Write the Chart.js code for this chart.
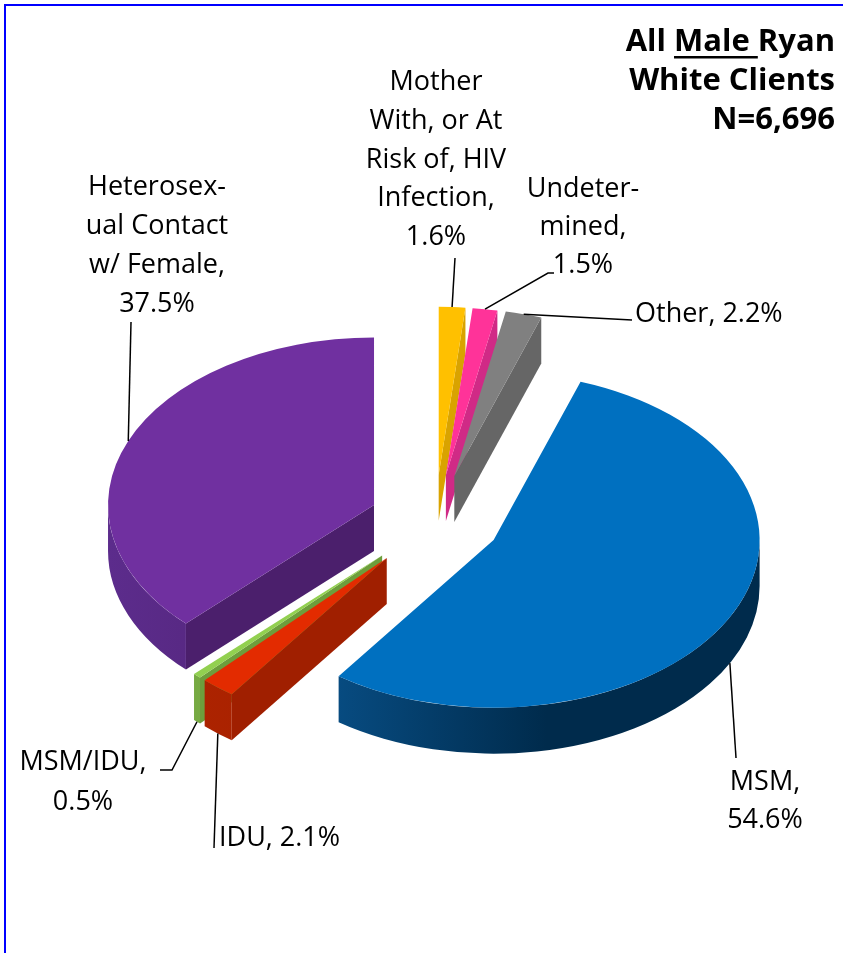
<!DOCTYPE html>
<html>
<head>
<meta charset="utf-8">
<script src="https://cdn.jsdelivr.net/npm/chart.js@4.4.0/dist/chart.umd.min.js"></script>
<style>
  html, body { margin: 0; padding: 0; background: #fff; }
  #wrap { position: relative; width: 846px; height: 953px; }
  #frame { position: absolute; left: 4px; top: 4px; width: 839px; height: 949px; box-sizing: border-box;
           border-top: 2px solid #0000ff; border-left: 2px solid #0000ff; pointer-events: none; }
</style>
</head>
<body>
<div id="wrap">
  <canvas id="pieChart"></canvas>
  <div id="frame"></div>
</div>
<script>
// --- Data ---
const categories = ['Mother With, or At Risk of, HIV Infection', 'Undetermined', 'Other', 'MSM', 'IDU', 'MSM/IDU', 'Heterosexual Contact w/ Female'];
const percentages = [1.6, 1.5, 2.2, 54.6, 2.1, 0.5, 37.5];
const titleLines = ['All Male Ryan', 'White Clients', 'N=6,696'];
const labelLines = [
    ['Mother', 'With, or At', 'Risk of, HIV', 'Infection,'],
    ['Undeter-', 'mined,'],
    ['Other,'],
    ['MSM,'],
    ['IDU,'],
    ['MSM/IDU,'],
    ['Heterosex-', 'ual Contact', 'w/ Female,']
];
const pctInline = [false, false, true, false, true, false, false];

// --- Styles ---
const topColors = ['#ffc000', '#ff3399', '#808080', '#0070c0', '#e32b00', '#92d050', '#7030a0'];
const wallColors = ['#d9a300', '#d02a86', '#666666', '#002b4c', '#a01f00', '#6d9e3c', '#4b1f6c'];
const wallLight = ['#e6b000', '#e02f90', '#707070', '#0b5c9c', '#b02400', '#7aae45', '#5c2c8c'];
const explode = [74, 74, 74, 66, 76, 76, 66];
const SQUASH = 0.63;
const DEPTH = 46;
const FONT = '"Open Sans", "Noto Sans", sans-serif';

// label placement (baseline of first line), leader end points
const labelLayout = [
    { x: 436, y: 90, align: 'center', pitch: 38.8, leader: [[455, 258]] },
    { x: 583, y: 197, align: 'center', pitch: 38, leader: [[548, 273], [554, 273]] },
    { x: 635, y: 322, align: 'left', pitch: 0, leader: [[632, 320]] },
    { x: 765, y: 790, align: 'center', pitch: 38, leader: [[736, 758]] },
    { x: 219, y: 846, align: 'left', pitch: 0, leader: [[214, 848]] },
    { x: 83, y: 770, align: 'center', pitch: 40, leader: [[172, 770], [160, 770]] },
    { x: 157, y: 195, align: 'center', pitch: 39, leader: [[131, 322]] }
];

function geom(arc, i) {
    const p = arc.getProps(['x', 'y', 'startAngle', 'endAngle', 'outerRadius'], true);
    const mid = (p.startAngle + p.endAngle) / 2;
    return {
        x: p.x, y: p.y, r: p.outerRadius, s: p.startAngle, e: p.endAngle, mid,
        cx: p.x + Math.cos(mid) * explode[i],
        cy: p.y + Math.sin(mid) * explode[i] * SQUASH
    };
}

function rim(g, a, dy) {
    return [g.cx + g.r * Math.cos(a), g.cy + g.r * SQUASH * Math.sin(a) + (dy || 0)];
}

function drawSlice(ctx, arc, i) {
    const g = geom(arc, i);
    ctx.save();
    // side walls along the cut edges
    const walls = [];
    if (Math.cos(g.s) < -1e-9) walls.push(g.s);
    if (Math.cos(g.e) > 1e-9) walls.push(g.e);
    ctx.fillStyle = wallColors[i];
    walls.forEach(a => {
        const p = rim(g, a), q = rim(g, a, DEPTH);
        ctx.beginPath();
        ctx.moveTo(g.cx, g.cy);
        ctx.lineTo(p[0], p[1]);
        ctx.lineTo(q[0], q[1]);
        ctx.lineTo(g.cx, g.cy + DEPTH);
        ctx.closePath();
        ctx.fill();
    });
    // outer wall (front half only)
    const a0 = Math.max(g.s, 0), a1 = Math.min(g.e, Math.PI);
    if (a1 > a0) {
        const grad = ctx.createLinearGradient(g.cx - g.r, 0, g.cx + g.r, 0);
        grad.addColorStop(0, wallLight[i]);
        grad.addColorStop(0.6, wallColors[i]);
        grad.addColorStop(1, wallColors[i]);
        ctx.fillStyle = grad;
        ctx.beginPath();
        ctx.ellipse(g.cx, g.cy, g.r, g.r * SQUASH, 0, a0, a1);
        ctx.ellipse(g.cx, g.cy + DEPTH, g.r, g.r * SQUASH, 0, a1, a0, true);
        ctx.closePath();
        ctx.fill();
    }
    // top face, drawn by the arc element itself
    ctx.translate(g.cx, g.cy);
    ctx.scale(1, SQUASH);
    ctx.translate(-g.x, -g.y);
    arc.draw(ctx);
    ctx.restore();
}

const pie3d = {
    id: 'pie3d',
    beforeDatasetsDraw(chart) {
        const ctx = chart.ctx;
        const arcs = chart.getDatasetMeta(0).data;
        const mids = arcs.map((a, i) => geom(a, i).mid);
        const order = arcs.map((a, i) => i).sort((a, b) => Math.sin(mids[a]) - Math.sin(mids[b]));
        order.forEach(i => drawSlice(ctx, arcs[i], i));
        return false;
    },
    afterDraw(chart) {
        const ctx = chart.ctx;
        const arcs = chart.getDatasetMeta(0).data;
        ctx.save();
        // leader lines
        ctx.strokeStyle = '#000';
        ctx.lineWidth = 1.5;
        arcs.forEach((arc, i) => {
            const g = geom(arc, i);
            const start = rim(g, g.mid, Math.sin(g.mid) > 0 ? DEPTH : 0);
            ctx.beginPath();
            ctx.moveTo(start[0], start[1]);
            labelLayout[i].leader.forEach(p => ctx.lineTo(p[0], p[1]));
            ctx.stroke();
        });
        // labels
        ctx.fillStyle = '#000';
        ctx.font = '27px ' + FONT;
        ctx.textBaseline = 'alphabetic';
        arcs.forEach((arc, i) => {
            const L = labelLayout[i];
            const pct = percentages[i].toFixed(1) + '%';
            const lines = labelLines[i].slice();
            if (pctInline[i]) lines[lines.length - 1] += ' ' + pct;
            else lines.push(pct);
            ctx.textAlign = L.align;
            lines.forEach((t, k) => ctx.fillText(t, L.x, L.y + k * L.pitch));
        });
        // title
        ctx.font = 'bold 31px ' + FONT;
        ctx.textAlign = 'right';
        const tx = 835;
        titleLines.forEach((t, k) => ctx.fillText(t, tx, 51 + k * 39));
        const w0 = ctx.measureText(titleLines[0]).width;
        const left = tx - w0 + ctx.measureText('All ').width;
        const wm = ctx.measureText('Male ').width;
        ctx.fillRect(left, 56, wm, 2.5);
        ctx.restore();
    }
};

const ctx = document.getElementById('pieChart').getContext('2d');
const myChart = new Chart(ctx, {
    type: 'pie',
    data: {
        labels: categories,
        datasets: [{
            data: percentages,
            backgroundColor: topColors,
            borderWidth: 0,
            radius: 266
        }]
    },
    options: {
        responsive: true,
        maintainAspectRatio: false,
        animation: false,
        layout: { padding: { left: 24, right: 0, top: 89, bottom: 0 } },
        plugins: {
            legend: { display: false },
            tooltip: { enabled: false }
        }
    },
    plugins: [pie3d]
});
</script>
</body>
</html>
